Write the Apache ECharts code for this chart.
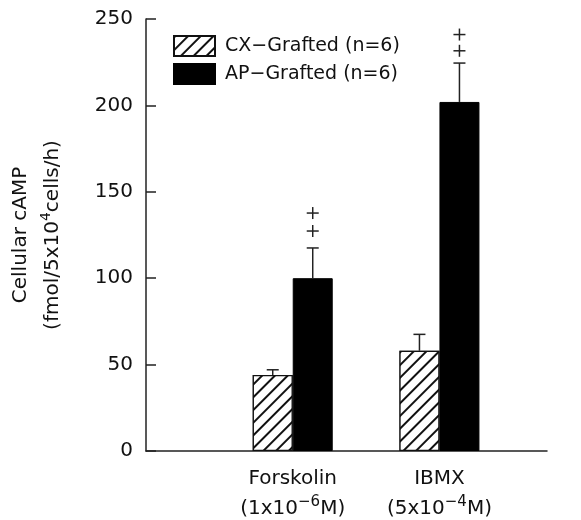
<!DOCTYPE html>
<html>
<head>
<meta charset="UTF-8">
<title>Cellular cAMP</title>
<style>
body { padding:0; border:0; margin:0; background:#fff; }
</style>
<script src="https://cdn.jsdelivr.net/npm/echarts@6/dist/echarts.min.js"></script>
</head>
<body>
<div id="main" style="width:581px;height:520px;"></div>
<script>
// 数据
var catPos = [1, 2];                 // Forskolin, IBMX 在x轴上的位置
var catNames = ['Forskolin', 'IBMX'];
var catDose = [['1x10', '−6', 'M'], ['5x10', '−4', 'M']];
var cxMean = [44, 58];
var cxErr = [3, 9.5];
var apMean = [100, 202];
var apErr = [17.5, 22.5];
var plusY = [[127.3, 137.7], [231.6, 241]];   // "++" 标记的高度
var yTicks = [0, 50, 100, 150, 200, 250];

var font = 'DejaVu Sans';
var barW = 40;

var myChart = echarts.init(document.getElementById('main'));

function pairs(vals) {
    return catPos.map(function (p, i) { return [p, vals[i]]; });
}

// 误差线
function errRender(offset) {
    return function (params, api) {
        var x = api.value(0);
        var base = api.coord([x, api.value(1)]);
        var top = api.coord([x, api.value(1) + api.value(2)]);
        var cx = base[0] + offset;
        return {
            type: 'group',
            children: [
                { type: 'line', shape: { x1: cx, y1: base[1], x2: cx, y2: top[1] },
                  style: { stroke: '#222', lineWidth: 1.5 } },
                { type: 'line', shape: { x1: cx - 6, y1: top[1], x2: cx + 6, y2: top[1] },
                  style: { stroke: '#222', lineWidth: 1.5 } }
            ]
        };
    };
}

var plusData = [];
catPos.forEach(function (p, i) {
    plusY[i].forEach(function (v) { plusData.push([p, v]); });
});

var option = {
    animation: false,
    grid: { left: 146, right: 34, top: 19, bottom: 69, outerBoundsMode: 'none', containLabel: false },
    legend: {
        data: ['CX−Grafted (n=6)', 'AP−Grafted (n=6)'],
        orient: 'vertical',
        left: 173, top: 35,
        padding: 0,
        itemWidth: 41, itemHeight: 20, itemGap: 6,
        icon: 'rect',
        textStyle: { fontFamily: font, fontSize: 19, color: '#111', padding: [0, 0, 0, 5] }
    },
    xAxis: {
        type: 'value',
        min: 0, max: 2.733, interval: 1,
        axisLine: { lineStyle: { color: '#222', width: 1.5 } },
        axisTick: { show: false },
        splitLine: { show: false },
        axisLabel: {
            margin: 13,
            showMinLabel: false, showMaxLabel: false,
            formatter: function (v) {
                var i = catPos.indexOf(v);
                if (i < 0) return '';
                var d = catDose[i];
                return '{a|' + catNames[i] + '}\n{a|(' + d[0] + '}{s|' + d[1] + '}{a|' + d[2] + ')}';
            },
            rich: {
                a: { fontFamily: font, fontSize: 20, color: '#111', lineHeight: 30 },
                s: { fontFamily: font, fontSize: 15, color: '#111', lineHeight: 30, padding: [0, 0, 13, 0] }
            }
        }
    },
    yAxis: {
        type: 'value',
        min: yTicks[0], max: yTicks[yTicks.length - 1], interval: 50,
        name: '{a|Cellular cAMP}\n{a|(fmol/5x10}{s|4}{a|cells/h)}',
        nameLocation: 'middle',
        nameRotate: 90,
        nameGap: 77,
        nameTextStyle: {
            rich: {
                a: { fontFamily: font, fontSize: 20, color: '#111', lineHeight: 32 },
                s: { fontFamily: font, fontSize: 14, color: '#111', lineHeight: 32, padding: [0, 0, 13, 0] }
            }
        },
        axisLine: { show: true, lineStyle: { color: '#222', width: 1.5 } },
        axisTick: { show: true, inside: true, length: 10, lineStyle: { color: '#222', width: 1.5 } },
        splitLine: { show: false },
        axisLabel: { margin: 13, fontFamily: font, fontSize: 20, color: '#111' }
    },
    series: [
        {
            name: 'CX−Grafted (n=6)',
            type: 'bar',
            barWidth: barW,
            barGap: '0%',
            data: pairs(cxMean),
            itemStyle: {
                color: '#fff',
                borderColor: '#111',
                borderWidth: 1.2,
                decal: {
                    symbol: 'rect',
                    symbolSize: 1,
                    color: '#111',
                    backgroundColor: '#fff',
                    dashArrayX: [1, 0],
                    dashArrayY: [1.2, 6.2],
                    rotation: -Math.PI / 4
                }
            }
        },
        {
            name: 'AP−Grafted (n=6)',
            type: 'bar',
            barWidth: barW,
            barGap: '0%',
            data: pairs(apMean),
            itemStyle: { color: '#000', borderColor: '#000', borderWidth: 1 }
        },
        {
            type: 'custom',
            renderItem: errRender(-barW / 2),
            data: catPos.map(function (p, i) { return [p, cxMean[i], cxErr[i]]; }),
            z: 3
        },
        {
            type: 'custom',
            renderItem: errRender(barW / 2),
            data: catPos.map(function (p, i) { return [p, apMean[i], apErr[i]]; }),
            z: 3
        },
        {
            type: 'custom',
            renderItem: function (params, api) {
                var c = api.coord([api.value(0), api.value(1)]);
                var cx = c[0] + barW / 2;
                return {
                    type: 'group',
                    children: [
                        { type: 'line', shape: { x1: cx - 6, y1: c[1], x2: cx + 6, y2: c[1] },
                          style: { stroke: '#222', lineWidth: 1.5 } },
                        { type: 'line', shape: { x1: cx, y1: c[1] - 6, x2: cx, y2: c[1] + 6 },
                          style: { stroke: '#222', lineWidth: 1.5 } }
                    ]
                };
            },
            data: plusData,
            z: 3
        }
    ]
};

myChart.setOption(option);
</script>
</body>
</html>
